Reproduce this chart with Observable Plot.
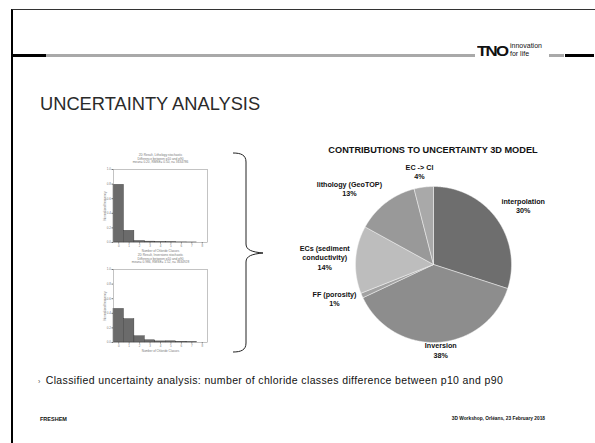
<!DOCTYPE html>
<html><head><meta charset="utf-8">
<script src="https://cdn.jsdelivr.net/npm/d3@7"></script>
<script src="https://cdn.jsdelivr.net/npm/@observablehq/plot@0.6"></script>
<style>
html,body{margin:0;padding:0;background:#fff;}
body{width:595px;height:443px;position:relative;overflow:hidden;font-family:"Liberation Sans",Arial,sans-serif;color:#111;}
</style></head><body>
<script>
// ---------- data ----------
const categories = ["interpolation","Inversion","FF (porosity)","ECs (sediment conductivity)","lithology (GeoTOP)","EC -> Cl"];
const labelLines = [["interpolation","30%"],["Inversion","38%"],["FF (porosity)","1%"],["ECs (sediment","conductivity)","14%"],["lithology (GeoTOP)","13%"],["EC -> Cl","4%"]];
const shares = [30,38,1,14,13,4];
const sliceColors = ["#6e6e6e","#8d8d8d","#a2a2a2","#bdbdbd","#999999","#a9a9a9"];
const pieTitle = "CONTRIBUTIONS TO UNCERTAINTY 3D MODEL";

const histBins = [0,1,2,3,4,5,6,7,8];
const histLithology = [0.79,0.16,0.02,0.012,0.006,0.004,0.002,0.001,0];
const histInversion = [0.46,0.32,0.085,0.03,0.015,0.016,0.01,0.005,0];
const histTitleLithology = ["2D Result, Lithology stochastic","Difference between p10 and p90","mean= 0.20, RMSE= 0.50, n= 3634786"];
const histTitleInversion = ["2D Result, Inversions stochastic","Difference between p10 and p90","mean= 0.986, RMSE= 1.52, n= 3634928"];
const histYTicks = [0,0.2,0.4,0.6,0.8,1.0];

const slideTitle = "UNCERTAINTY ANALYSIS";
const bulletText = "Classified uncertainty analysis: number of chloride classes difference between p10 and p90";
const footerLeft = "FRESHEM";
const footerRight = "3D Workshop, Orléans, 23 February 2018";

// ---------- slide frame ----------
function el(tag, css, html){const e=document.createElement(tag);e.style.cssText=css;if(html!=null)e.innerHTML=html;document.body.appendChild(e);return e;}
function place(node, left, top){node.style.position="absolute";node.style.left=left+"px";node.style.top=top+"px";node.style.overflow="visible";document.body.appendChild(node);}
el("div","position:absolute;left:11px;top:9px;width:582px;height:460px;border-left:2px solid #000;border-right:2px solid #000;border-top:1.5px solid #333;");
el("div","position:absolute;left:12px;top:54px;width:34px;height:3px;background:#000;");
el("div","position:absolute;left:46px;top:54px;width:429px;height:3px;background:#a9a9a9;");
el("div","position:absolute;left:549px;top:54px;width:15px;height:3px;background:#a9a9a9;");
el("div","position:absolute;left:565px;top:54px;width:29px;height:3px;background:#000;");
el("div","position:absolute;left:477px;top:43px;font:900 15px 'Liberation Sans',Arial,sans-serif;letter-spacing:-1.5px;transform:scaleX(1.12);transform-origin:left;line-height:15px;","TNO");
el("div","position:absolute;left:510px;top:42px;font:7px 'Liberation Sans',Arial,sans-serif;line-height:7.6px;","innovation<br>for life");
el("div","position:absolute;left:40px;top:93px;font:18.3px 'Liberation Sans',Arial,sans-serif;color:#2a2a2a;", slideTitle);
el("div","position:absolute;left:38px;top:374px;font:10.5px 'Liberation Sans',Arial,sans-serif;letter-spacing:0.37px;color:#111;white-space:nowrap;","<span style='font-size:7px;margin-right:5px;color:#555'>&#x203A;</span>"+bulletText);
el("div","position:absolute;left:40px;top:416px;font:bold 5.5px 'Liberation Sans',Arial,sans-serif;", footerLeft);
el("div","position:absolute;right:50px;top:416px;font:bold 4.8px 'Liberation Sans',Arial,sans-serif;", footerRight);

// brace
const ns="http://www.w3.org/2000/svg";
const bsvg=document.createElementNS(ns,"svg");
bsvg.setAttribute("width","595");bsvg.setAttribute("height","443");
bsvg.style.cssText="position:absolute;left:0;top:0;pointer-events:none;";
const bp=document.createElementNS(ns,"path");
bp.setAttribute("d","M233,153 C241,153 246,155 246,162 L246,244 C246,250 252,252 263,253 C252,254 246,256 246,262 L246,343 C246,350 241,352 233,352");
bp.setAttribute("fill","none");bp.setAttribute("stroke","#222");bp.setAttribute("stroke-width","1");
bsvg.appendChild(bp);document.body.appendChild(bsvg);

// ---------- pie chart ----------
const R = 78;               // px per unit radius
const pieW = 300, pieH = 215, pieLeft = 283, pieTop = 158, cx = 433, cy = 264;
const rows = categories.map((c,i)=>({cat:c, share:shares[i], lines:labelLines[i]}));
const arcs = d3.pie().sort(null).value(d=>d.share)(rows);
const pts = arcs.flatMap(s=>{
  const n = Math.max(2, Math.ceil((s.endAngle-s.startAngle)/0.01));
  const a = [{k:s.data.cat,x:0,y:0}];
  for(let i=0;i<=n;i++){const t=s.startAngle+(s.endAngle-s.startAngle)*i/n;a.push({k:s.data.cat,x:Math.sin(t),y:-Math.cos(t)});}
  a.push({k:s.data.cat,x:0,y:0});
  return a;
});
const ctx = document.createElement("canvas").getContext("2d");
const labFont = 7.2, labLH = 9.5;
ctx.font = `bold ${labFont}px "Liberation Sans"`;
const clamp=(v,a,b)=>Math.max(a,Math.min(b,v));
const labels = arcs.map(s=>{
  const m=(s.startAngle+s.endAngle)/2, dx=Math.sin(m), dy=-Math.cos(m);
  const w=Math.max(...s.data.lines.map(l=>ctx.measureText(l).width));
  const hw=w/2/R, hh=s.data.lines.length*labLH/2/R;
  const rr=1+6/R;
  const sx=clamp(dx*2,-1,1), sy= dy<0 ? clamp(dy*2,-1,0) : 0.15*dy;
  return {text:s.data.lines.join("\n"), x:dx*rr+sx*hw, y:dy*rr+sy*hh};
});
const pie = Plot.plot({
  width:pieW, height:pieH, margin:0,
  x:{domain:[-(cx-pieLeft)/R,(pieLeft+pieW-cx)/R], range:[0,pieW], axis:null},
  y:{domain:[-(cy-pieTop)/R,(pieTop+pieH-cy)/R], range:[0,pieH], axis:null},
  color:{domain:categories, range:sliceColors},
  style:{background:"transparent"},
  marks:[
    Plot.line(pts,{x:"x",y:"y",z:"k",fill:"k",stroke:"#f4f4f4",strokeWidth:0.5,curve:"linear"}),
    Plot.text(labels,{x:"x",y:"y",text:"text",lineHeight:labLH/labFont,fontSize:labFont,fontWeight:"bold",fill:"#111",fontFamily:"Liberation Sans"})
  ]
});
place(pie, pieLeft, pieTop);
el("div",`position:absolute;left:${cx-150}px;width:300px;text-align:center;top:145px;font:bold 9.2px 'Liberation Sans',Arial,sans-serif;color:#111;`, pieTitle);

// ---------- histograms ----------
function hist(values, title, left, top){
  const data = histBins.map((b,i)=>({b, v:values[i]}));
  const p = Plot.plot({
    width:120, height:112, marginLeft:18, marginRight:8, marginTop:19, marginBottom:20,
    style:{background:"transparent", fontSize:"3px", color:"#777", fontFamily:"Liberation Sans"},
    x:{domain:[-0.5,8.5], ticks:histBins, tickSize:1.5, tickPadding:1, label:"Number of Chloride Classes", labelAnchor:"center", labelOffset:9, tickFormat:d=>d, labelArrow:"none"},
    y:{domain:[0,1], ticks:histYTicks, tickSize:1.5, tickPadding:1, tickFormat:d3.format(".1f"), label:"Normalized frequency", labelAnchor:"center", labelOffset:10, labelArrow:"none"},
    marks:[
      Plot.rectY(data,{x1:d=>d.b-0.5,x2:d=>d.b+0.5,y:"v",fill:"#6b6b6b",stroke:"#333",strokeWidth:0.4}),
      Plot.frame({stroke:"#888",strokeWidth:0.5}),
      Plot.text([title.join("\n")],{frameAnchor:"top",dy:-16,lineAnchor:"top",fontSize:3.2,fill:"#777",lineHeight:1.15})
    ]
  });
  place(p, left, top);
}
hist(histLithology, histTitleLithology, 95, 150);
hist(histInversion, histTitleInversion, 95, 250);
</script>
</body></html>
